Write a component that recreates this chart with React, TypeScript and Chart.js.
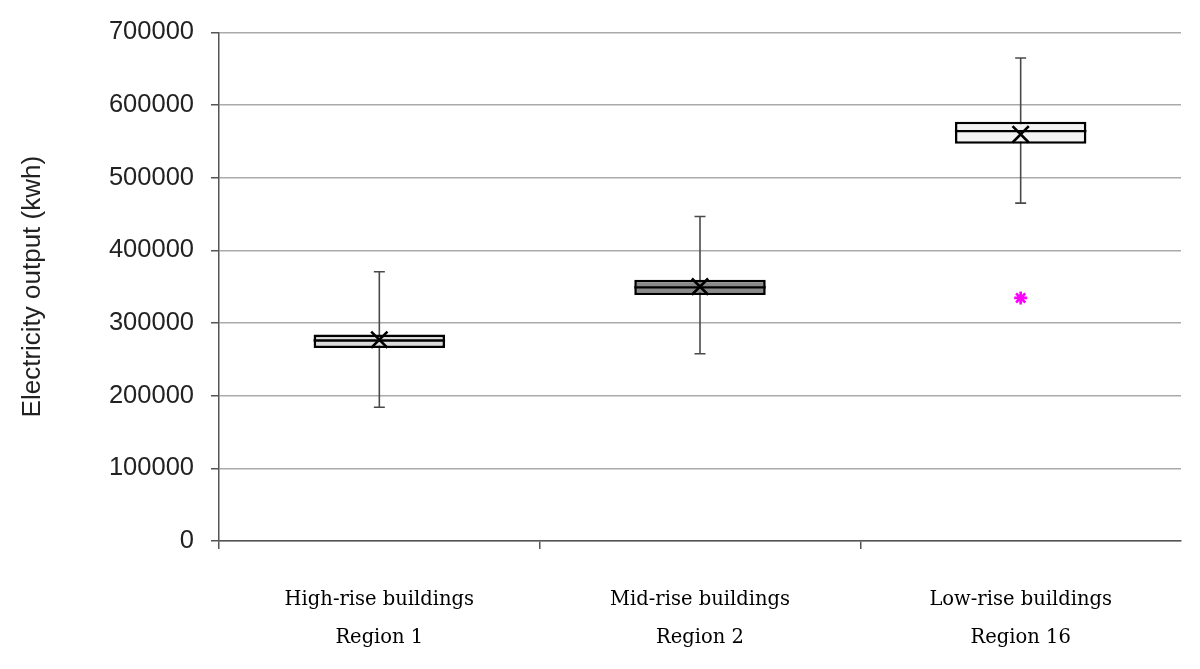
import React, { useEffect, useRef } from "react";
import { Chart, registerables } from "chart.js";

Chart.register(...registerables);

const categories: string[][] = [
  ["High-rise buildings", "Region 1"],
  ["Mid-rise buildings", "Region 2"],
  ["Low-rise buildings", "Region 16"],
];
const whiskerLow = [184000, 257600, 465000];
const q1 = [265500, 338500, 546500];
const median = [276000, 349000, 564000];
const q3 = [284000, 359500, 577000];
const whiskerHigh = [370500, 446500, 664700];
const mean = [277000, 350000, 559600];
const outliers = [null, null, 334500];
const boxFills = ["#dcdcdc", "#8a8a8a", "#f2f2f2"];
const yMin = 0;
const yMax = 700000;
const yStep = 100000;
const yTitle = "Electricity output (kwh)";

const boxPlugin = {
  id: "boxExtras",
  beforeDatasetsDraw(chart: any) {
    const meta = chart.getDatasetMeta(0);
    const y = chart.scales.y;
    const ctx = chart.ctx;
    ctx.save();
    ctx.strokeStyle = "#4a4a4a";
    ctx.lineWidth = 1.6;
    meta.data.forEach((bar: any, i: number) => {
      const { x } = bar.getProps(["x"], true);
      const yl = y.getPixelForValue(whiskerLow[i]);
      const yh = y.getPixelForValue(whiskerHigh[i]);
      ctx.beginPath();
      ctx.moveTo(x, yh);
      ctx.lineTo(x, yl);
      ctx.moveTo(x - 5.5, yh);
      ctx.lineTo(x + 5.5, yh);
      ctx.moveTo(x - 5.5, yl);
      ctx.lineTo(x + 5.5, yl);
      ctx.stroke();
    });
    ctx.restore();
  },
  afterDatasetDraw(chart: any, args: any) {
    if (args.index !== 0) return;
    const meta = chart.getDatasetMeta(0);
    const y = chart.scales.y;
    const ctx = chart.ctx;
    ctx.save();
    ctx.strokeStyle = "#000";
    ctx.lineWidth = 2.4;
    meta.data.forEach((bar: any, i: number) => {
      const { x, width } = bar.getProps(["x", "width"], true);
      const ym = y.getPixelForValue(median[i]);
      ctx.beginPath();
      ctx.moveTo(x - width / 2, ym);
      ctx.lineTo(x + width / 2, ym);
      ctx.stroke();
    });
    ctx.restore();
  },
};

export default function App() {
  const canvasRef = useRef<HTMLCanvasElement>(null);

  useEffect(() => {
    if (!canvasRef.current) return;
    const chart = new Chart(canvasRef.current, {
      type: "bar",
      data: {
        labels: categories,
        datasets: [
          {
            type: "bar",
            data: q1.map((v, i) => [v, q3[i]]) as any,
            backgroundColor: boxFills,
            borderColor: "#000",
            borderWidth: 2.6,
            borderSkipped: false,
            barPercentage: 0.41,
            categoryPercentage: 1,
            order: 2,
          } as any,
          {
            type: "line",
            data: mean,
            showLine: false,
            pointStyle: "crossRot",
            pointRadius: 11.5,
            pointBorderWidth: 2.6,
            pointBorderColor: "#000",
            pointBackgroundColor: "#000",
            order: 1,
          } as any,
          {
            type: "line",
            data: outliers,
            showLine: false,
            pointStyle: "star",
            pointRadius: 6.5,
            pointBorderWidth: 2.6,
            pointBorderColor: "#ff00ff",
            pointBackgroundColor: "#ff00ff",
            order: 0,
          } as any,
        ],
      },
      options: {
        responsive: true,
        maintainAspectRatio: false,
        animation: false,
        layout: { padding: { left: 0, right: 19, top: 30, bottom: 0 } },
        plugins: { legend: { display: false }, tooltip: { enabled: false } },
        scales: {
          x: {
            type: "category",
            offset: true,
            grid: {
              offset: true,
              drawOnChartArea: false,
              drawTicks: true,
              tickLength: 8,
              color: "#555",
              tickColor: (c: any) => (c.type === "tick" ? "#555" : "rgba(0,0,0,0)"),
              lineWidth: 1.5,
            },
            border: { color: "#555", width: 1.5 },
            ticks: {
              color: "#000",
              font: { family: "'DejaVu Serif', serif", size: 19.5, lineHeight: 1.95 },
              padding: 32,
              maxRotation: 0,
            },
            afterFit: (s: any) => {
              s.height = 128;
            },
          },
          y: {
            min: yMin,
            max: yMax,
            ticks: {
              stepSize: yStep,
              color: "#222",
              font: { family: "'Liberation Sans', Arial, sans-serif", size: 25.5 },
              padding: 17,
              callback: (v: any) => String(v),
            },
            grid: {
              color: "#aaaaaa",
              lineWidth: 1.5,
              tickLength: 8,
              tickColor: "#555",
            },
            border: { color: "#555", width: 1.5 },
            title: {
              display: true,
              text: yTitle,
              color: "#222",
              font: { family: "'Liberation Sans', Arial, sans-serif", size: 26 },
              padding: { top: 17, bottom: 0 },
            },
            afterFit: (s: any) => {
              s.width = 219;
            },
          },
        },
      },
      plugins: [boxPlugin],
    });
    return () => chart.destroy();
  }, []);

  return (
    <div style={{ position: "fixed", left: 0, top: 0, width: 1200, height: 669 }}>
      <canvas ref={canvasRef} />
    </div>
  );
}
